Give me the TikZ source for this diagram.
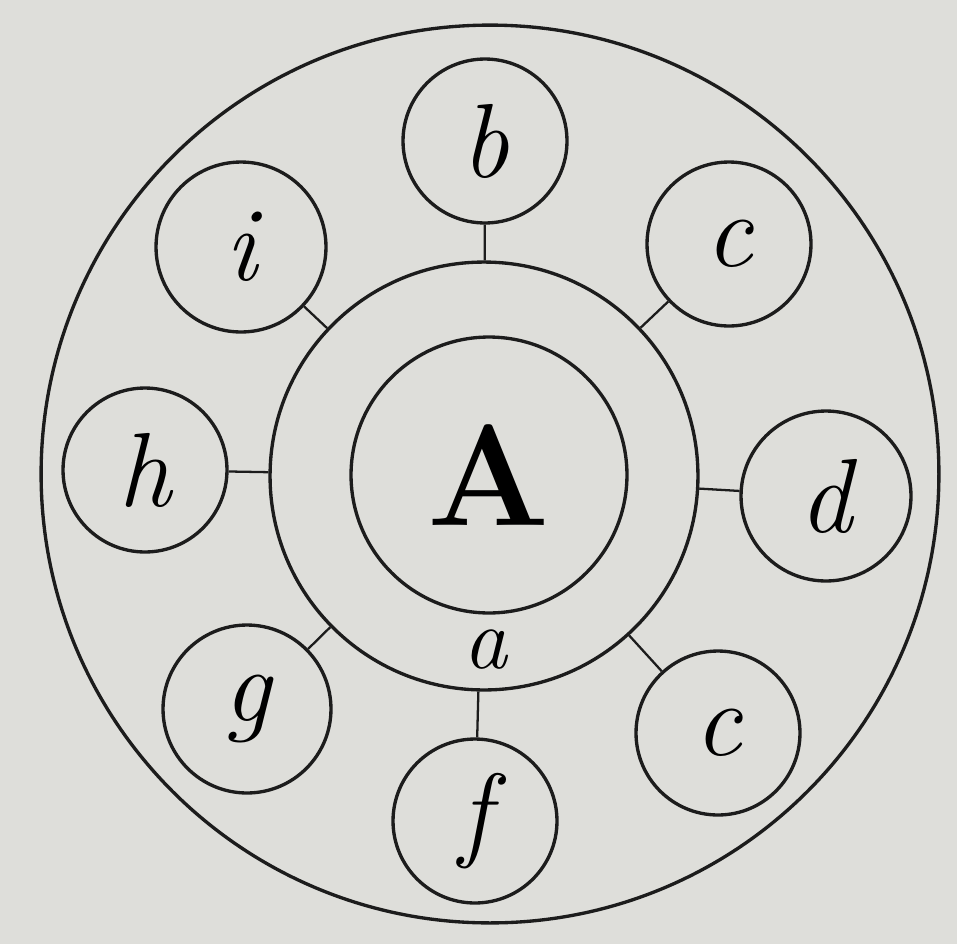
\documentclass[tikz,border=0pt]{standalone}
\usepackage{tikz}
\usetikzlibrary{positioning}

\definecolor{paper}{HTML}{DEDEDA}
\definecolor{ink}{HTML}{1C1C1C}

\begin{document}
\begin{tikzpicture}[
  x=0.02cm, y=-0.02cm,
  ring/.style={draw=ink, circle, line width=1.9pt, inner sep=0pt},
  sat/.style={ring, minimum size=3.28cm, font=\fontsize{60}{62}\selectfont\itshape},
  link/.style={draw=ink, line width=1.3pt}
]
  \fill[paper] (0,0) rectangle (957,944);
  \useasboundingbox (0,0) rectangle (957,944);

  \node[ring, minimum size=17.96cm] (outer) at (490,474) {};
  \node[ring, minimum size=8.56cm] (shell) at (484,476) {};
  \node[ring, minimum size=5.52cm, font=\fontsize{82}{84}\selectfont\bfseries] (core) at (489,475) {A};
  \node[font=\fontsize{50}{52}\selectfont\itshape] (la) at (485,650) {a};

  \node[sat] (b) at (485,141) {b};
  \node[sat] (c) at (729,244) {c};
  \node[sat, minimum size=3.4cm] (d) at (826,496) {d};
  \node[sat] (e) at (718,733) {c};
  \node[sat] (f) at (475,821) {f};
  \node[sat, minimum size=3.36cm] (g) at (247,709) {g};
  \node[sat] (h) at (145,470) {h};
  \node[sat, minimum size=3.4cm] (i) at (241,247) {i};

  \foreach \s in {b,c,d,e,f,g,h,i}
    \draw[link] (shell) -- (\s);
\end{tikzpicture}
\end{document}
